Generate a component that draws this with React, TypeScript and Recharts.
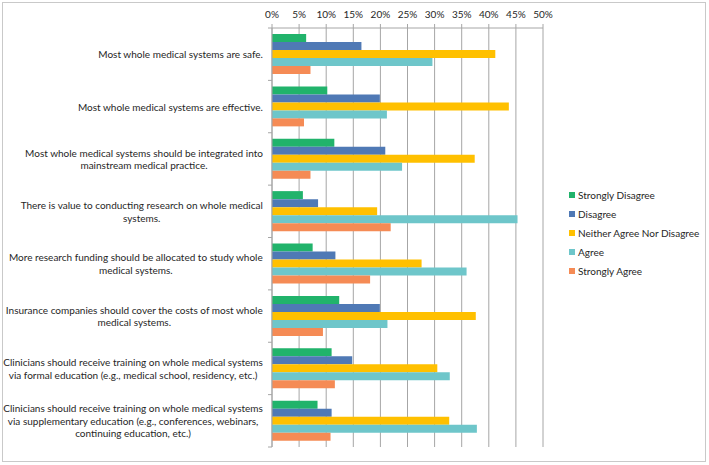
import { Bar, BarChart, CartesianGrid, Legend, XAxis, YAxis } from "recharts"

// survey statements, "\n" marks where each label wraps
const STATEMENTS = [
  "Most whole medical systems are safe.",
  "Most whole medical systems are effective.",
  "Most whole medical systems should be integrated into\nmainstream medical practice.",
  "There is value to conducting research on whole medical\nsystems.",
  "More research funding should be allocated to study whole\nmedical systems.",
  "Insurance companies should cover the costs of most whole\nmedical systems.",
  "Clinicians should receive training on whole medical systems\nvia formal education (e.g., medical school, residency, etc.)",
  "Clinicians should receive training on whole medical systems\nvia supplementary education (e.g., conferences, webinars,\ncontinuing education, etc.)",
]

// share of respondents, in percent
const STRONGLY_DISAGREE = [6.3, 10.2, 11.5, 5.7, 7.5, 12.4, 11.0, 8.4]
const DISAGREE = [16.5, 19.9, 20.9, 8.5, 11.7, 19.9, 14.8, 11.0]
const NEUTRAL = [41.2, 43.7, 37.4, 19.4, 27.6, 37.6, 30.5, 32.7]
const AGREE = [29.6, 21.2, 24.0, 45.3, 35.9, 21.3, 32.8, 37.8]
const STRONGLY_AGREE = [7.1, 5.9, 7.1, 21.9, 18.1, 9.4, 11.6, 10.8]

const PCT_TICKS = [0, 5, 10, 15, 20, 25, 30, 35, 40, 45, 50]

const SERIES = [
  { key: "sd", name: "Strongly Disagree", color: "#21b36b", values: STRONGLY_DISAGREE },
  { key: "d", name: "Disagree", color: "#4f79b5", values: DISAGREE },
  { key: "n", name: "Neither Agree Nor Disagree", color: "#ffc000", values: NEUTRAL },
  { key: "a", name: "Agree", color: "#6ec6ca", values: AGREE },
  { key: "sa", name: "Strongly Agree", color: "#f58b55", values: STRONGLY_AGREE },
]

const data = STATEMENTS.map((label, i) => {
  const row: Record<string, string | number> = { label }
  SERIES.forEach((s) => {
    row[s.key] = s.values[i]
  })
  return row
})

const W = 709
const H = 465
const PLOT_TOP = 28
const PLOT_BOTTOM = 447
const FONT = "Lato, 'Open Sans', sans-serif"
const FONT_SIZE = 10
const LINE_H = 12.5
const GRID = "#a6a6a6"

let measureCtx: CanvasRenderingContext2D | null = null
function textWidth(s: string) {
  if (!measureCtx) measureCtx = document.createElement("canvas").getContext("2d")
  if (!measureCtx) return s.length * 4.6
  measureCtx.font = `${FONT_SIZE}px Lato`
  return measureCtx.measureText(s).width
}

// wrapped label: lines centred on each other, block right-aligned to the axis
function StatementTick(props: any) {
  const { x, y, payload, index } = props
  const lines = String(payload.value).split("\n")
  const maxW = Math.max(...lines.map(textWidth))
  const cx = x - maxW / 2
  const band = (PLOT_BOTTOM - PLOT_TOP) / STATEMENTS.length
  const axisX = x + 9
  const y0 = y - ((lines.length - 1) * LINE_H) / 2
  return (
    <g>
      <line x1={axisX - 4} x2={axisX} y1={y - band / 2} y2={y - band / 2} stroke={GRID} />
      {index === STATEMENTS.length - 1 && (
        <line x1={axisX - 4} x2={axisX} y1={y + band / 2} y2={y + band / 2} stroke={GRID} />
      )}
      {lines.map((ln, i) => (
        <text
          key={i}
          x={cx}
          y={y0 + i * LINE_H}
          textAnchor="middle"
          dominantBaseline="central"
          fontSize={FONT_SIZE}
          fontFamily={FONT}
          fill="#262626"
        >
          {ln}
        </text>
      ))}
    </g>
  )
}

// keep the series order rather than the legend's default sort
function LegendList({ payload }: any) {
  const items = SERIES.map((s) => (payload ?? []).find((p: any) => p.dataKey === s.key) ?? { value: s.name, color: s.color })
  return (
    <div style={{ fontFamily: FONT, fontSize: FONT_SIZE, color: "#262626" }}>
      {items.map((p: any) => (
        <div key={p.value} style={{ display: "flex", alignItems: "center", height: 19 }}>
          <span style={{ width: 6, height: 6, background: p.color, marginRight: 3 }} />
          {p.value}
        </div>
      ))}
    </div>
  )
}

export default function App() {
  return (
    <div style={{ position: "absolute", left: 0, top: 0, width: W, height: H, background: "#fff" }}>
      <div
        style={{
          position: "absolute",
          left: 2,
          top: 2,
          width: 704,
          height: 460,
          border: "1.5px solid #c9c9c9",
          boxSizing: "border-box",
          pointerEvents: "none",
        }}
      />
      <BarChart
        width={W}
        height={H}
        data={data}
        layout="vertical"
        margin={{ top: 0, right: 166, bottom: H - PLOT_BOTTOM, left: 0 }}
        barCategoryGap={6}
        barGap={0}
      >
        <CartesianGrid horizontal={false} stroke={GRID} />
        <XAxis
          type="number"
          orientation="top"
          domain={[0, 50]}
          ticks={PCT_TICKS}
          tickFormatter={(v) => `${v}%`}
          height={PLOT_TOP}
          axisLine={{ stroke: GRID }}
          tickLine={{ stroke: GRID }}
          tickSize={4}
          tickMargin={6}
          interval={0}
          tick={{ fontSize: FONT_SIZE, fontFamily: FONT, fill: "#262626" }}
        />
        <YAxis
          type="category"
          dataKey="label"
          width={272}
          axisLine={{ stroke: GRID }}
          tickLine={false}
          tickSize={0}
          tickMargin={9}
          interval={0}
          tick={<StatementTick />}
        />
        <Legend
          layout="horizontal"
          align="center"
          verticalAlign="middle"
          content={<LegendList />}
          wrapperStyle={{ left: 569, top: 185, width: 138 }}
        />
        {SERIES.map((s) => (
          <Bar key={s.key} dataKey={s.key} name={s.name} fill={s.color} isAnimationActive={false} />
        ))}
      </BarChart>
    </div>
  )
}
